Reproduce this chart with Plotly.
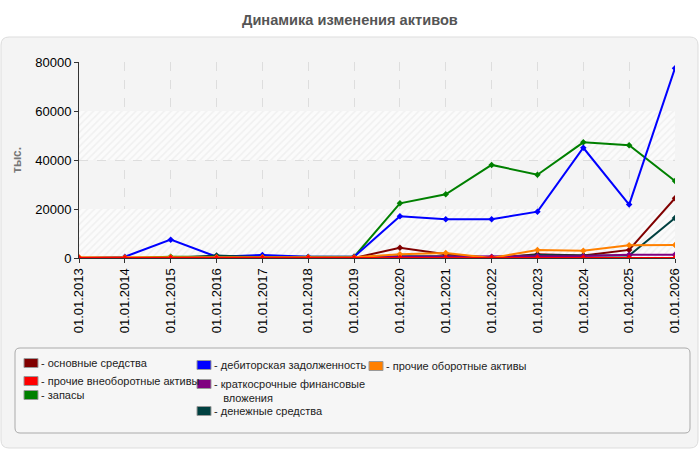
import plotly.graph_objects as go

years = ["01.01.%d" % y for y in range(2013, 2027)]

osn = [0, 0, 0, 0, 0, 0, 0, 4200, 1500, 0, 1500, 1000, 3300, 24400]
proch_vneob = [0, 0, 0, 0, 0, 0, 0, 0, 0, 0, 0, 0, 0, 0]
zapasy = [0, 0, 500, 500, 300, 300, 500, 22300, 26000, 38000, 34000, 47200, 46000, 31400]
debit = [0, 500, 7500, 500, 1200, 500, 500, 17000, 15800, 15800, 18900, 45000, 21800, 77500]
kfv = [0, 0, 0, 0, 0, 0, 0, 500, 500, 500, 800, 800, 1300, 1300]
den = [0, 0, 0, 1000, 300, 300, 300, 700, 700, 300, 1200, 1000, 1000, 16300]
proch_ob = [300, 300, 300, 300, 300, 300, 300, 1500, 2000, 0, 3300, 3000, 5200, 5300]

names = ["основные средства", "прочие внеоборотные активы", "запасы",
         "дебиторская задолженность", "краткосрочные финансовые<br>вложения",
         "денежные средства", "прочие оборотные активы"]
colors = ["#800000", "#ff0000", "#008000", "#0000ff", "#800080", "#004040", "#ff8000"]
series = [osn, proch_vneob, zapasy, debit, kfv, den, proch_ob]
draw_order = [0, 2, 3, 5, 4, 6, 1]

y_ticks = [0, 20000, 40000, 60000, 80000]

# plot geometry in pixels
L, R, T, B = 79, 675, 62, 258
W, H = 700, 450


def px(x):
    return (x - L) / (R - L)


def py(y):
    return (B - y) / (B - T)


fig = go.Figure()

# hatched alternating background bands
xs = list(range(len(years)))
for i in range(0, len(y_ticks) - 1, 2):
    fig.add_trace(go.Bar(
        x=[(xs[0] + xs[-1]) / 2], y=[y_ticks[i + 1] - y_ticks[i]], base=[y_ticks[i]],
        width=[xs[-1] - xs[0]], marker=dict(color="#fbfbfb", line=dict(width=0),
                                              pattern=dict(shape="/", fgcolor="#e6e6e6", bgcolor="#fbfbfb", size=5, solidity=0.3)),
        showlegend=False, hoverinfo="skip"))

for i in draw_order:
    fig.add_trace(go.Scatter(
        x=xs, y=series[i], mode="lines+markers", name=names[i],
        line=dict(color=colors[i], width=2),
        marker=dict(symbol="diamond", size=5, color=colors[i]),
        showlegend=False))

shapes = []


def rounded(xa, xb, ya, yb, rad):
    rx = rad / (R - L)
    ry = rad / (B - T)
    return (f"M {xa+rx},{ya} L {xb-rx},{ya} Q {xb},{ya} {xb},{ya-ry} "
            f"L {xb},{yb+ry} Q {xb},{yb} {xb-rx},{yb} L {xa+rx},{yb} "
            f"Q {xa},{yb} {xa},{yb+ry} L {xa},{ya-ry} Q {xa},{ya} {xa+rx},{ya} Z")


shapes.append(dict(type="path", xref="paper", yref="paper", path=rounded(px(1), px(698), py(37), py(448), 8),
                   fillcolor="#f4f4f4", line=dict(color="#dddddd", width=1), layer="below"))
shapes.append(dict(type="path", xref="paper", yref="paper", path=rounded(px(15), px(690), py(348), py(433), 5),
                   fillcolor="#f6f6f6", line=dict(color="#aaaaaa", width=1), layer="below"))

annotations = [dict(text="<b>Динамика изменения активов</b>", x=px(350), y=py(20), xref="paper", yref="paper",
                    xanchor="center", yanchor="middle",
                    showarrow=False, font=dict(size=14.6, color="#555555"))]

leg_font = "Liberation Sans, Arial, sans-serif"
leg_pos = [(0, 24, 363), (1, 24, 381), (2, 24, 395), (3, 197, 365), (4, 197, 384),
           (5, 197, 411), (6, 369, 366)]
for idx, sx, sy in leg_pos:
    shapes.append(dict(type="rect", xref="paper", yref="paper",
                       x0=px(sx), x1=px(sx + 14), y0=py(sy - 4.5), y1=py(sy + 4.5),
                       fillcolor=colors[idx], line=dict(color="#999999", width=1)))
    yy = sy if idx != 4 else sy + 6.5
    annotations.append(dict(text="- " + names[idx].replace("<br>", "<br>   "), x=px(sx + 15), y=py(yy),
                            xref="paper", yref="paper", xanchor="left", yanchor="middle",
                            align="left", showarrow=False,
                            font=dict(size=11, color="#222222", family=leg_font)))

annotations.append(dict(text="<b>тыс.</b>", x=px(17), y=py(160), xref="paper", yref="paper",
                        xanchor="center", yanchor="middle",
                        textangle=-90, showarrow=False, font=dict(size=12, color="#777777")))

fig.update_layout(
    width=W, height=H, margin=dict(l=L, r=W - R, t=T, b=H - B),
    paper_bgcolor="white", plot_bgcolor="#fdfdf6",
    font=dict(family="Liberation Sans, Arial, sans-serif", size=13, color="#000000"),
    barmode="overlay", bargap=0,
    shapes=shapes, annotations=annotations, showlegend=False,
    xaxis=dict(range=[0, 13], tickmode="array", tickvals=xs, ticktext=years, tickangle=-90,
               showgrid=True, gridcolor="#dddddd", griddash="dash", zeroline=False,
               ticks="outside", ticklen=4, tickcolor="#333333", showline=True, linecolor="#333333",
               tickfont=dict(size=13)),
    yaxis=dict(range=[0, 80000], tickvals=y_ticks, tickformat="d", showgrid=True, gridcolor="#dddddd",
               griddash="dash", zeroline=False, ticks="outside", ticklen=4, tickcolor="#333333",
               showline=True, linecolor="#333333", tickfont=dict(size=13)),
)

fig.write_html("out.html")
